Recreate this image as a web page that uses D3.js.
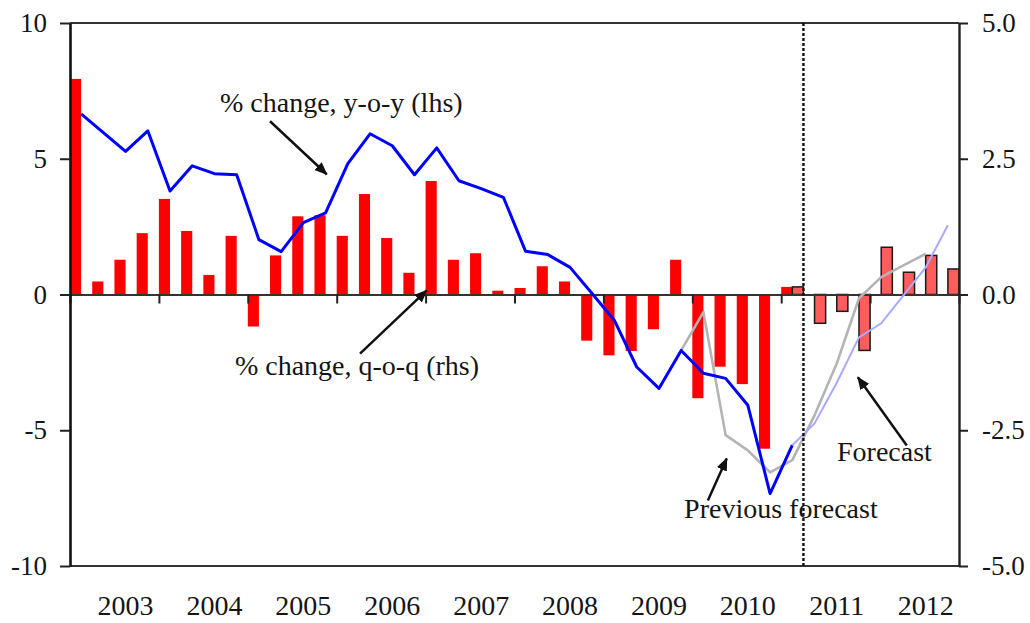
<!DOCTYPE html>
<html>
<head>
<meta charset="utf-8">
<script src="https://cdn.jsdelivr.net/npm/d3@7"></script>
<style>
  body { margin: 0; background: #fff; }
  svg text { font-family: "Liberation Serif", "Times New Roman", serif; fill: #151515; }
</style>
</head>
<body>
<div id="chart"></div>
<script>
// quarters 2003Q1 .. 2012Q4
const years = [2003, 2004, 2005, 2006, 2007, 2008, 2009, 2010, 2011, 2012];
const qNames = ["Q1", "Q2", "Q3", "Q4"];
const quarters = years.flatMap(y => qNames.map(q => y + q));

// % change q-o-q (rhs), actual 2003Q1 - 2011Q1
const qoqActual = [3.97, 0.24, 0.64, 1.13, 1.76, 1.17, 0.36, 1.08, -0.59, 0.72, 1.44, 1.46,
  1.08, 1.85, 1.04, 0.40, 2.09, 0.64, 0.76, 0.07, 0.12, 0.52, 0.24, -0.85,
  -1.12, -1.04, -0.64, 0.64, -1.91, -1.33, -1.65, -2.84, 0.14];
// % change q-o-q (rhs), forecast 2011Q1 - 2012Q4
const qoqForecast = [0.14, -0.53, -0.31, -1.03, 0.87, 0.41, 0.72, 0.47];

// % change y-o-y (lhs), actual 2003Q1 - 2011Q1
const yoyActual = [6.65, 5.96, 5.27, 6.03, 3.81, 4.74, 4.45, 4.41, 2.02, 1.58, 2.65, 3.01,
  4.82, 5.92, 5.48, 4.41, 5.40, 4.19, 3.90, 3.58, 1.59, 1.47, 1.00, 0.03,
  -0.96, -2.67, -3.46, -2.06, -2.90, -3.09, -4.08, -7.33, -5.55];
// forecast 2011Q1 - 2012Q4
const yoyForecast = [-5.55, -4.75, -3.25, -1.58, -1.06, -0.03, 1.00, 2.55];
// previous forecast 2009Q4 - 2012Q3
const yoyPrevious = [-2.06, -0.65, -5.18, -5.74, -6.55, -6.10, -4.45, -2.54, -0.14, 0.64, 1.07, 1.50];

const lhsTicks = [-10, -5, 0, 5, 10];
const rhsTicks = [-5, -2.5, 0, 2.5, 5];

const width = 1030, height = 623;
const margin = {top: 23, right: 71, bottom: 57, left: 70};

const svg = d3.select("#chart").append("svg")
  .attr("width", width)
  .attr("height", height);

const x = d3.scaleBand().domain(quarters).range([margin.left, width - margin.right]).padding(0);
const xSeries = d3.scaleBand().domain(["actual", "forecast"]).range([0, x.bandwidth()]);
const yL = d3.scaleLinear().domain([-10, 10]).range([height - margin.bottom, margin.top]);
const yR = d3.scaleLinear().domain([-5, 5]).range([height - margin.bottom, margin.top]);
// fractional category position (for boundaries and notes)
const xAt = i => x.range()[0] + i * x.step();

const fromQ = q => quarters.indexOf(q);
const actualBars = qoqActual.map((v, i) => ({q: quarters[i], v}));
const forecastBars = qoqForecast.map((v, i) => ({q: quarters[fromQ("2011Q1") + i], v}));

// frame top / bottom
svg.append("g")
  .attr("stroke", "#333").attr("stroke-width", 2)
  .selectAll("line").data([10, -10]).join("line")
  .attr("x1", margin.left).attr("x2", width - margin.right)
  .attr("y1", d => yL(d)).attr("y2", d => yL(d));

// bars
svg.append("g").selectAll("rect").data(actualBars).join("rect")
  .attr("x", d => x(d.q) + xSeries("actual"))
  .attr("width", xSeries.bandwidth())
  .attr("y", d => yR(Math.max(0, d.v)))
  .attr("height", d => Math.abs(yR(d.v) - yR(0)))
  .attr("fill", "#ff0000");

svg.append("g").selectAll("rect").data(forecastBars).join("rect")
  .attr("x", d => x(d.q) + xSeries("forecast"))
  .attr("width", xSeries.bandwidth())
  .attr("y", d => yR(Math.max(0, d.v)))
  .attr("height", d => Math.abs(yR(d.v) - yR(0)))
  .attr("fill", "#ff5c5c")
  .attr("stroke", "#1a1a1a")
  .attr("stroke-width", 1.5);

// zero line with year ticks
const xYear = d3.scaleLinear().domain([2003, 2013]).range(x.range());
svg.append("g")
  .attr("transform", `translate(0,${yL(0)})`)
  .call(d3.axisBottom(xYear).tickValues(d3.range(2003, 2014)).tickSize(9).tickSizeOuter(0).tickFormat(""))
  .call(g => g.select(".domain").attr("stroke", "#333").attr("stroke-width", 2.2))
  .call(g => g.selectAll(".tick line").attr("stroke", "#222").attr("stroke-width", 2));

// year labels
svg.append("g")
  .attr("transform", `translate(0,${yL(-10)})`)
  .call(d3.axisBottom(x).tickValues(quarters.filter(q => q.endsWith("Q3"))).tickSize(0).tickPadding(29)
    .tickFormat(q => q.slice(0, 4)))
  .call(g => g.select(".domain").remove())
  .call(g => g.selectAll("text").attr("font-size", 28).attr("font-family", null));

// left axis
svg.append("g")
  .attr("transform", `translate(${margin.left},0)`)
  .call(d3.axisLeft(yL).tickValues(lhsTicks).tickSize(10).tickSizeOuter(0).tickPadding(13)
    .tickFormat(d => String(d)))
  .call(g => g.select(".domain").attr("stroke", "#111").attr("stroke-width", 2.6))
  .call(g => g.selectAll(".tick line").attr("stroke", "#222").attr("stroke-width", 2))
  .call(g => g.selectAll("text").attr("font-size", 27).attr("font-family", null));

// right axis
svg.append("g")
  .attr("transform", `translate(${width - margin.right},0)`)
  .call(d3.axisRight(yR).tickValues(rhsTicks).tickSize(9).tickSizeOuter(0).tickPadding(14)
    .tickFormat(d => d.toFixed(1)))
  .call(g => g.select(".domain").attr("stroke", "#222").attr("stroke-width", 2.4))
  .call(g => g.selectAll(".tick line").attr("stroke", "#222").attr("stroke-width", 2))
  .call(g => g.selectAll("text").attr("font-size", 27).attr("font-family", null));

// lines
const line = d3.line().x(d => x(d.q) + x.bandwidth() / 2).y(d => yL(d.v));
const series = (vals, start) => vals.map((v, i) => ({q: quarters[fromQ(start) + i], v}));

svg.append("path")
  .datum(series(yoyPrevious, "2009Q4"))
  .attr("fill", "none").attr("stroke", "#b4b4b4").attr("stroke-width", 2.6)
  .attr("stroke-linejoin", "round")
  .attr("d", line);

svg.append("path")
  .datum(series(yoyActual, "2003Q1"))
  .attr("fill", "none").attr("stroke", "#0000ff").attr("stroke-width", 3)
  .attr("stroke-linejoin", "round")
  .attr("d", line);

svg.append("path")
  .datum(series(yoyForecast, "2011Q1"))
  .attr("fill", "none").attr("stroke", "#a9a9ff").attr("stroke-width", 2)
  .attr("d", line);

// forecast divider
svg.append("line")
  .attr("x1", xAt(fromQ("2011Q2"))).attr("x2", xAt(fromQ("2011Q2")))
  .attr("y1", yL(10)).attr("y2", yL(-10))
  .attr("stroke", "#111").attr("stroke-width", 2.4)
  .attr("stroke-dasharray", "3,2");

// annotations (category position, lhs value)
svg.append("defs").append("marker")
  .attr("id", "head")
  .attr("viewBox", "0 0 12 10")
  .attr("refX", 11).attr("refY", 5)
  .attr("markerWidth", 13).attr("markerHeight", 11)
  .attr("markerUnits", "userSpaceOnUse")
  .attr("orient", "auto")
  .append("path").attr("d", "M0,0L12,5L0,10Z").attr("fill", "#111");

const arrows = [
  {from: [9.0, 6.38], to: [11.55, 4.43]},
  {from: [13.05, -2.18], to: [16.05, 0.15]},
  {from: [28.7, -7.59], to: [29.55, -6.04]},
  {from: [37.65, -5.56], to: [35.45, -3.05]}
];
svg.append("g").selectAll("line").data(arrows).join("line")
  .attr("x1", d => xAt(d.from[0])).attr("y1", d => yL(d.from[1]))
  .attr("x2", d => xAt(d.to[0])).attr("y2", d => yL(d.to[1]))
  .attr("stroke", "#111").attr("stroke-width", 2.5)
  .attr("marker-end", "url(#head)");

const notes = [
  {text: "% change, y-o-y (lhs)", at: [6.75, 6.71]},
  {text: "% change, q-o-q (rhs)", at: [7.42, -2.98]},
  {text: "Previous forecast", at: [27.63, -8.25]},
  {text: "Forecast", at: [34.51, -6.15]}
];
svg.append("g").selectAll("text").data(notes).join("text")
  .attr("x", d => xAt(d.at[0])).attr("y", d => yL(d.at[1]))
  .attr("font-size", 28)
  .text(d => d.text);
</script>
</body>
</html>
